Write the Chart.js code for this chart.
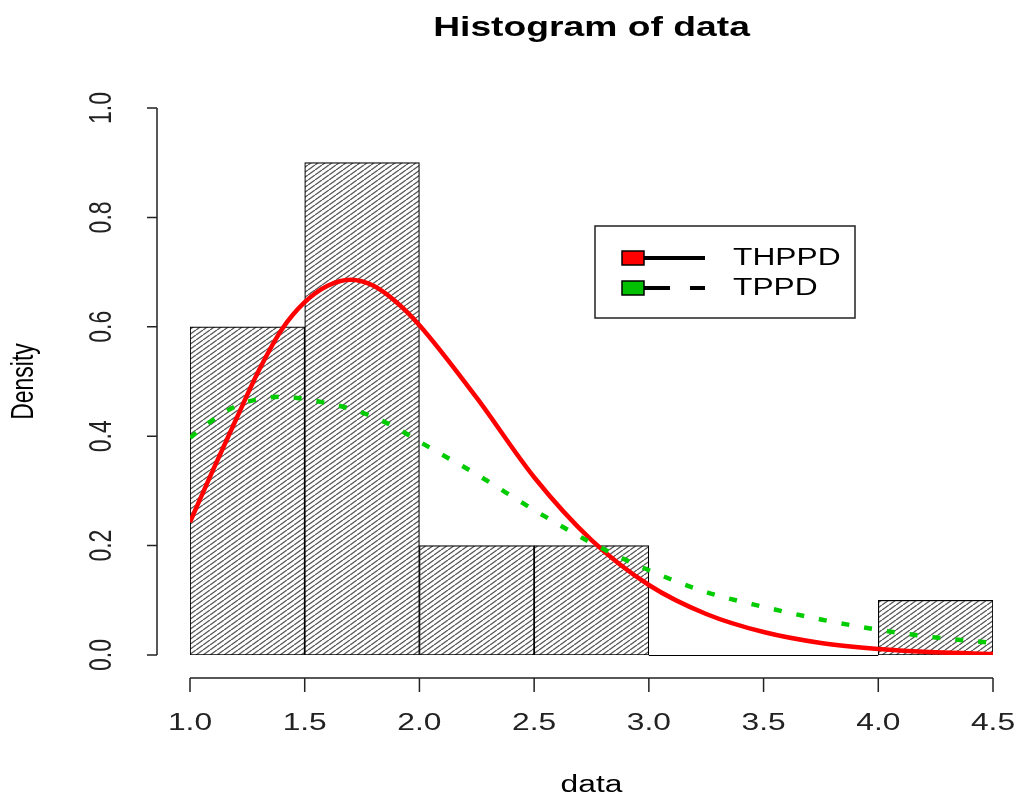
<!DOCTYPE html>
<html lang="en">
<head>
    <meta charset="UTF-8">
    <title>Histogram of data</title>
    <style>
        body {
            margin: 0;
            background-color: #fff;
        }

        canvas {
            display: block;
        }
    </style>
</head>
<body>
    <canvas id="histChart" width="1017" height="795"></canvas>

    <script src="https://cdn.jsdelivr.net/npm/chart.js"></script>
    <script>
        // Histogram bins (midpoints) and densities
        const binMids = [1.25, 1.75, 2.25, 2.75, 3.25, 3.75, 4.25];
        const binDensity = [0.6, 0.9, 0.2, 0.2, 0, 0, 0.1];

        // Fitted density curves
        const curveX = [1.0, 1.1, 1.2, 1.3, 1.4, 1.5, 1.6, 1.7, 1.8, 1.9, 2.0, 2.25, 2.5, 2.75, 3.0, 3.25, 3.5, 3.75, 4.0, 4.25, 4.5];
        const thppd = [0.243, 0.338, 0.43, 0.52, 0.595, 0.645, 0.675, 0.686, 0.675, 0.645, 0.603, 0.47, 0.325, 0.21, 0.128, 0.075, 0.042, 0.022, 0.011, 0.005, 0.002];
        const tppd = [0.397, 0.43, 0.455, 0.468, 0.472, 0.468, 0.46, 0.45, 0.435, 0.415, 0.39, 0.33, 0.265, 0.205, 0.155, 0.115, 0.088, 0.065, 0.046, 0.032, 0.022];

        // Axis tick labels
        const xTicks = ['1.0', '1.5', '2.0', '2.5', '3.0', '3.5', '4.0', '4.5'];
        const yTicks = ['0.0', '0.2', '0.4', '0.6', '0.8', '1.0'];

        const FONT = '"Liberation Sans", Arial, sans-serif';
        const SX = 1.38; // the picture is a bit wider than tall

        // diagonal hatching like R's density= shading
        function hatchPattern() {
            const w = 7, h = 5;
            const c = document.createElement('canvas');
            c.width = w;
            c.height = h;
            const g = c.getContext('2d');
            g.fillStyle = '#fff';
            g.fillRect(0, 0, w, h);
            g.strokeStyle = '#555';
            g.lineWidth = 1.3;
            for (let k = -1; k <= 1; k++) {
                g.beginPath();
                g.moveTo(k * w, h);
                g.lineTo(k * w + w, 0);
                g.stroke();
            }
            return g.createPattern(c, 'repeat');
        }

        function stretchedText(ctx, text, x, y, rotate) {
            ctx.save();
            ctx.translate(x, y);
            ctx.scale(SX, 1);
            if (rotate) ctx.rotate(-Math.PI / 2);
            ctx.fillText(text, 0, 0);
            ctx.restore();
        }

        // R style detached axes, titles and legend
        const rStyle = {
            id: 'rStyle',
            beforeDatasetsDraw(chart) {
                const ctx = chart.ctx;
                const xs = chart.scales.x, ys = chart.scales.y;
                const y0 = ys.getPixelForValue(0);
                ctx.save();
                ctx.strokeStyle = '#000';
                ctx.lineWidth = 1;
                ctx.beginPath();
                ctx.moveTo(xs.getPixelForValue(3), y0 + 0.5);
                ctx.lineTo(xs.getPixelForValue(4), y0 + 0.5);
                ctx.stroke();
                ctx.restore();
            },
            afterDraw(chart) {
                const ctx = chart.ctx;
                const xs = chart.scales.x, ys = chart.scales.y;
                ctx.save();
                ctx.strokeStyle = '#222';
                ctx.fillStyle = '#222';
                ctx.lineWidth = 1.5;

                // x axis
                const axY = 678;
                ctx.beginPath();
                ctx.moveTo(xs.getPixelForValue(parseFloat(xTicks[0])), axY);
                ctx.lineTo(xs.getPixelForValue(parseFloat(xTicks[xTicks.length - 1])), axY);
                xTicks.forEach(t => {
                    const px = xs.getPixelForValue(parseFloat(t));
                    ctx.moveTo(px, axY);
                    ctx.lineTo(px, axY + 14);
                });
                ctx.stroke();
                ctx.font = '23px ' + FONT;
                ctx.textAlign = 'center';
                ctx.textBaseline = 'alphabetic';
                xTicks.forEach(t => {
                    stretchedText(ctx, t, xs.getPixelForValue(parseFloat(t)), 730);
                });

                // y axis
                const axX = 157;
                ctx.beginPath();
                ctx.moveTo(axX, ys.getPixelForValue(parseFloat(yTicks[0])));
                ctx.lineTo(axX, ys.getPixelForValue(parseFloat(yTicks[yTicks.length - 1])));
                yTicks.forEach(t => {
                    const py = ys.getPixelForValue(parseFloat(t));
                    ctx.moveTo(axX, py);
                    ctx.lineTo(axX - 10, py);
                });
                ctx.stroke();
                ctx.textBaseline = 'middle';
                yTicks.forEach(t => {
                    stretchedText(ctx, t, 102, ys.getPixelForValue(parseFloat(t)), true);
                });

                // axis titles
                ctx.fillStyle = '#000';
                stretchedText(ctx, 'Density', 24, (ys.top + ys.bottom) / 2, true);
                ctx.textBaseline = 'alphabetic';
                stretchedText(ctx, 'data', (xs.left + xs.right) / 2, 792);

                // main title
                ctx.font = 'bold 27px ' + FONT;
                stretchedText(ctx, 'Histogram of data', (xs.left + xs.right) / 2, 36);

                // legend box
                ctx.lineWidth = 1.5;
                ctx.strokeStyle = '#222';
                ctx.strokeRect(595, 226, 260, 92);
                const rows = [chart.data.datasets[1], chart.data.datasets[2]];
                const rowY = [258, 288];
                rows.forEach((ds, i) => {
                    const cy = rowY[i];
                    ctx.fillStyle = ds.keyFill;
                    ctx.fillRect(622, cy - 7, 22, 14);
                    ctx.lineWidth = 1.5;
                    ctx.strokeStyle = '#000';
                    ctx.strokeRect(622, cy - 7, 22, 14);
                    ctx.lineWidth = 4;
                    ctx.setLineDash(ds.keyDash);
                    ctx.beginPath();
                    ctx.moveTo(644, cy);
                    ctx.lineTo(705, cy);
                    ctx.stroke();
                    ctx.setLineDash([]);
                    ctx.fillStyle = '#000';
                    ctx.font = '23px ' + FONT;
                    ctx.textAlign = 'left';
                    ctx.textBaseline = 'middle';
                    stretchedText(ctx, ds.label, 733, cy + 1);
                });
                ctx.restore();
            }
        };

        const ctx = document.getElementById('histChart').getContext('2d');
        const histChart = new Chart(ctx, {
            data: {
                datasets: [{
                    type: 'bar',
                    label: 'data',
                    data: binMids.map((m, i) => ({ x: m, y: binDensity[i] })),
                    backgroundColor: hatchPattern(),
                    borderColor: '#000',
                    borderWidth: 1.2,
                    borderSkipped: false,
                    barPercentage: 1,
                    categoryPercentage: 1,
                    order: 3
                }, {
                    type: 'line',
                    label: 'THPPD',
                    data: curveX.map((x, i) => ({ x: x, y: thppd[i] })),
                    borderColor: '#ff0000',
                    borderWidth: 4.5,
                    pointRadius: 0,
                    cubicInterpolationMode: 'monotone',
                    keyFill: '#ff0000',
                    keyDash: [],
                    order: 2
                }, {
                    type: 'line',
                    label: 'TPPD',
                    data: curveX.map((x, i) => ({ x: x, y: tppd[i] })),
                    borderColor: '#00cc00',
                    borderWidth: 4.5,
                    borderDash: [8, 15],
                    pointRadius: 0,
                    cubicInterpolationMode: 'monotone',
                    keyFill: '#00c000',
                    keyDash: [26, 20],
                    order: 1
                }]
            },
            options: {
                responsive: false,
                animation: false,
                layout: {
                    padding: { left: 190, right: 24, top: 108, bottom: 140 }
                },
                plugins: {
                    legend: { display: false },
                    title: { display: false },
                    tooltip: { enabled: false }
                },
                scales: {
                    x: {
                        type: 'linear',
                        min: 1,
                        max: 4.5,
                        offset: false,
                        display: false
                    },
                    y: {
                        type: 'linear',
                        min: 0,
                        max: 1,
                        display: false
                    }
                }
            },
            plugins: [rStyle]
        });
    </script>
</body>
</html>
